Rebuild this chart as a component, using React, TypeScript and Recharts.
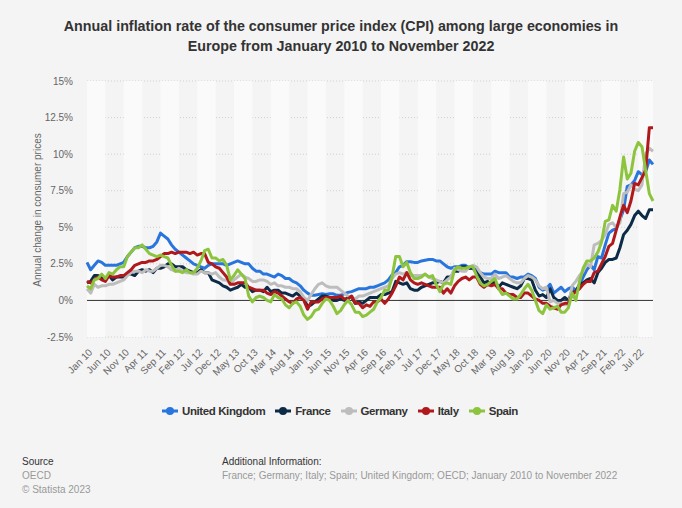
import {
  CartesianGrid,
  Line,
  LineChart,
  ReferenceArea,
  ReferenceLine,
  XAxis,
  YAxis
} from "recharts";

// x tick labels, one every 5 months starting Jan 2010
const TICK_LABELS = [
  "Jan 10", "Jun 10", "Nov 10", "Apr 11", "Sep 11", "Feb 12", "Jul 12", "Dec 12",
  "May 13", "Oct 13", "Mar 14", "Aug 14", "Jan 15", "Jun 15", "Nov 15", "Apr 16",
  "Sep 16", "Feb 17", "Jul 17", "Dec 17", "May 18", "Oct 18", "Mar 19", "Aug 19",
  "Jan 20", "Jun 20", "Nov 20", "Apr 21", "Sep 21", "Feb 22", "Jul 22"
];

const Y_TICKS = [-2.5, 0, 2.5, 5, 7.5, 10, 12.5, 15];

// monthly values, Jan 2010 .. Nov 2022 (one row per year)
const UK = [
  2.6, 2.1, 2.4, 2.7, 2.6, 2.4, 2.4, 2.4, 2.4, 2.5, 2.6, 3.0,
  3.3, 3.6, 3.7, 3.7, 3.6, 3.6, 3.7, 4.0, 4.6, 4.4, 4.2, 3.8,
  3.5, 3.3, 3.1, 2.9, 2.7, 2.5, 2.4, 2.3, 2.2, 2.4, 2.5, 2.5,
  2.5, 2.5, 2.4, 2.5, 2.6, 2.7, 2.6, 2.5, 2.5, 2.2, 2.0, 2.0,
  1.8, 1.8, 1.7, 1.6, 1.8, 1.7, 1.5, 1.5, 1.3, 1.2, 1.0, 0.7,
  0.5, 0.35, 0.35, 0.4, 0.45, 0.4, 0.45, 0.45, 0.35, 0.35, 0.45, 0.55,
  0.6, 0.7, 0.8, 0.8, 0.8, 0.9, 0.9, 1.0, 1.1, 1.2, 1.4, 1.75,
  1.9, 2.3, 2.4, 2.65, 2.65, 2.6, 2.6, 2.7, 2.75, 2.8, 2.8, 2.7,
  2.7, 2.5, 2.3, 2.2, 2.3, 2.3, 2.4, 2.4, 2.2, 2.2, 2.1, 1.9,
  1.8, 1.8, 1.8, 2.0, 1.9, 1.9, 1.9, 1.6, 1.6, 1.5, 1.6, 1.6,
  1.8, 1.7, 1.5, 0.9, 0.7, 0.8, 1.1, 0.5, 0.7, 0.9, 0.6, 0.8,
  0.9, 0.7, 1.0, 1.6, 2.1, 2.4, 2.1, 3.0, 2.9, 3.8, 4.6, 4.8,
  4.9, 5.5, 6.2, 7.8, 7.9, 8.2, 8.8, 8.6, 8.8, 9.6, 9.3
];

const FRANCE = [
  1.2, 1.3, 1.7, 1.7, 1.6, 1.5, 1.7, 1.4, 1.6, 1.6, 1.6, 1.8,
  1.8, 1.7, 2.0, 2.1, 2.0, 2.1, 1.9, 2.2, 2.2, 2.3, 2.5, 2.5,
  2.3, 2.3, 2.3, 2.1, 2.0, 1.9, 1.9, 2.1, 1.9, 1.9, 1.4, 1.3,
  1.2, 1.0, 0.9, 0.7, 0.8, 0.9, 1.1, 0.9, 0.9, 0.6, 0.7, 0.7,
  0.6, 0.9, 0.6, 0.7, 0.7, 0.5, 0.5, 0.4, 0.3, 0.5, 0.3, 0.1,
  -0.4, -0.3, -0.1, 0.1, 0.3, 0.3, 0.2, 0.0, 0.0, 0.1, 0.0, 0.2,
  0.2, -0.2, -0.1, -0.2, 0.0, 0.2, 0.2, 0.2, 0.4, 0.4, 0.5, 0.6,
  1.3, 1.2, 1.1, 1.2, 0.8, 0.7, 0.7, 0.9, 1.0, 1.1, 1.2, 1.2,
  1.3, 1.2, 1.6, 1.6, 2.0, 2.0, 2.3, 2.3, 2.2, 2.2, 1.9, 1.6,
  1.2, 1.3, 1.1, 1.3, 0.9, 1.2, 1.1, 1.0, 0.9, 0.8, 1.0, 1.5,
  1.5, 1.4, 0.7, 0.3, 0.4, 0.2, 0.8, 0.2, 0.0, 0.0, 0.2, 0.0,
  0.6, 0.6, 1.1, 1.2, 1.4, 1.5, 1.2, 1.9, 2.2, 2.6, 2.8, 2.8,
  2.9, 3.6, 4.5, 4.8, 5.2, 5.8, 6.1, 5.8, 5.6, 6.2, 6.2
];

const GERMANY = [
  0.8, 0.5, 1.1, 0.9, 1.0, 1.0, 1.1, 1.1, 1.2, 1.3, 1.4, 1.7,
  1.9, 2.0, 2.0, 1.9, 2.1, 2.0, 2.0, 2.2, 2.4, 2.4, 2.3, 2.1,
  2.0, 2.2, 2.0, 1.9, 1.9, 1.8, 1.8, 2.0, 1.9, 1.9, 1.8, 1.9,
  1.6, 1.4, 1.4, 1.1, 1.4, 1.6, 1.8, 1.6, 1.5, 1.3, 1.3, 1.4,
  1.4, 1.3, 1.1, 1.2, 1.0, 1.0, 0.9, 0.9, 0.8, 0.8, 0.6, 0.2,
  0.0, 0.4, 0.8, 1.1, 1.2, 1.0, 0.9, 0.9, 0.9, 0.7, 0.5, 0.3,
  0.2, 0.1, 0.3, 0.3, 0.4, 0.5, 0.6, 0.7, 0.8, 0.9, 1.0, 1.5,
  1.8, 1.9, 1.8, 1.9, 1.7, 1.7, 1.7, 1.7, 1.8, 1.6, 1.5, 1.4,
  1.3, 1.2, 1.4, 1.6, 2.2, 2.1, 2.0, 2.0, 2.3, 2.4, 2.3, 1.9,
  1.6, 1.5, 1.5, 1.8, 1.5, 1.6, 1.7, 1.5, 1.3, 1.2, 1.2, 1.5,
  1.7, 1.6, 1.4, 1.0, 0.8, 0.9, -0.1, 0.0, -0.2, -0.2, -0.3, -0.3,
  1.0, 1.3, 1.7, 2.0, 2.5, 2.3, 3.8, 3.9, 4.1, 4.5, 5.2, 5.3,
  5.0, 5.3, 7.3, 7.4, 7.9, 7.6, 7.5, 7.9, 10.0, 10.4, 10.2
];

const ITALY = [
  1.3, 1.2, 1.4, 1.6, 1.4, 1.3, 1.7, 1.6, 1.6, 1.7, 1.7, 1.9,
  2.1, 2.4, 2.5, 2.6, 2.6, 2.7, 2.7, 2.8, 3.0, 3.2, 3.2, 3.3,
  3.2, 3.3, 3.3, 3.3, 3.2, 3.3, 3.1, 3.2, 3.2, 2.6, 2.5, 2.3,
  2.2, 1.9, 1.6, 1.1, 1.1, 1.2, 1.2, 1.2, 0.9, 0.8, 0.7, 0.7,
  0.7, 0.5, 0.4, 0.6, 0.5, 0.3, 0.1, -0.1, -0.2, 0.1, 0.2, 0.0,
  -0.6, -0.1, -0.1, -0.1, 0.1, 0.2, 0.2, 0.2, 0.2, 0.3, 0.1, 0.1,
  0.3, -0.2, -0.2, -0.5, -0.3, -0.4, -0.1, -0.1, 0.1, -0.2, 0.1, 0.5,
  1.0, 1.6, 1.4, 1.9, 1.4, 1.2, 1.1, 1.2, 1.1, 1.0, 0.9, 0.9,
  0.9, 0.5, 0.8, 0.5, 1.0, 1.3, 1.5, 1.6, 1.4, 1.6, 1.6, 1.1,
  0.9, 1.1, 1.0, 1.1, 0.8, 0.8, 0.5, 0.4, 0.4, 0.2, 0.2, 0.5,
  0.5, 0.3, 0.1, 0.0, -0.2, -0.2, -0.4, -0.5, -0.6, -0.3, -0.2, -0.2,
  0.4, 0.6, 0.8, 1.1, 1.3, 1.3, 1.9, 2.0, 2.5, 3.0, 3.7, 3.9,
  4.8, 5.7, 6.5, 6.0, 6.8, 8.0, 7.9, 8.4, 8.9, 11.8, 11.8
];

const SPAIN = [
  1.0, 0.8, 1.4, 1.5, 1.8, 1.5, 1.9, 1.8, 2.1, 2.3, 2.3, 3.0,
  3.3, 3.6, 3.6, 3.8, 3.5, 3.2, 3.1, 3.0, 3.1, 3.0, 2.9, 2.4,
  2.0, 2.0, 1.9, 2.1, 1.9, 1.9, 2.2, 2.7, 3.4, 3.5, 2.9, 2.9,
  2.7, 2.8, 2.4, 1.4, 1.7, 2.1, 1.8, 1.5, 0.3, -0.1, 0.2, 0.3,
  0.2, 0.0, -0.1, 0.4, 0.2, 0.1, -0.3, -0.5, -0.2, -0.1, -0.4, -1.0,
  -1.3, -1.1, -0.7, -0.6, -0.2, 0.1, 0.0, -0.4, -0.9, -0.7, -0.3, 0.0,
  -0.3, -0.8, -0.8, -1.1, -1.0, -0.8, -0.6, -0.1, 0.2, 0.7, 0.7, 1.6,
  3.0, 3.0, 2.3, 2.6, 1.9, 1.5, 1.5, 1.6, 1.8, 1.6, 1.7, 1.1,
  0.6, 1.1, 1.2, 1.1, 2.1, 2.3, 2.2, 2.2, 2.3, 2.3, 1.7, 1.2,
  1.0, 1.1, 1.3, 1.5, 0.8, 0.4, 0.5, 0.3, 0.1, 0.1, 0.4, 0.8,
  1.1, 0.7, 0.0, -0.7, -0.9, -0.3, -0.6, -0.5, -0.4, -0.8, -0.8, -0.5,
  0.5, 0.0, 1.3, 2.2, 2.7, 2.7, 2.9, 3.3, 4.0, 5.4, 5.5, 6.5,
  6.1, 7.6, 9.8, 8.3, 8.7, 10.2, 10.8, 10.5, 8.9, 7.3, 6.8
];

const SERIES = [
  { key: "uk", name: "United Kingdom", color: "#2876dd" },
  { key: "fr", name: "France", color: "#0d2a47" },
  { key: "de", name: "Germany", color: "#bdbdbd" },
  { key: "it", name: "Italy", color: "#b0181c" },
  { key: "es", name: "Spain", color: "#8cc43d" }
];

const data = UK.map((v, i) => ({
  i,
  uk: v,
  fr: FRANCE[i],
  de: GERMANY[i],
  it: ITALY[i],
  es: SPAIN[i]
}));

const LAST = UK.length - 1;
const FONT = "'Liberation Sans', Arial, sans-serif";

function MonthTick({ x, y, payload }: any) {
  const tx = x + 6;
  const ty = y + 8;
  return (
    <text
      x={tx}
      y={ty}
      transform={`rotate(-45, ${tx}, ${ty})`}
      textAnchor="end"
      fill="#666"
      fontSize={10}
      fontFamily={FONT}
    >
      {TICK_LABELS[payload.value / 5]}
    </text>
  );
}

function LegendItem({ name, color }: { name: string; color: string }) {
  return (
    <div style={{ display: "flex", alignItems: "center", marginRight: 10 }}>
      <svg width={16} height={10} style={{ marginRight: 4 }}>
        <line x1={0} y1={5} x2={16} y2={5} stroke={color} strokeWidth={3} />
        <circle cx={8} cy={5} r={4} fill={color} />
      </svg>
      <span style={{ fontWeight: 700, fontSize: 11.5, color: "#333", letterSpacing: -0.4 }}>{name}</span>
    </div>
  );
}

export default function App() {
  return (
    <div
      style={{
        position: "absolute",
        left: 0,
        top: 0,
        width: 682,
        height: 508,
        background: "#f4f4f4",
        fontFamily: FONT,
        overflow: "hidden"
      }}
    >
      <div
        style={{
          position: "absolute",
          top: 16,
          left: 0,
          width: 682,
          textAlign: "center",
          fontWeight: 700,
          fontSize: 14.3,
          lineHeight: "20px",
          color: "#333"
        }}
      >
        Annual inflation rate of the consumer price index (CPI) among large economies in
        <br />
        Europe from January 2010 to November 2022
      </div>

      <div style={{ position: "absolute", left: 0, top: 0 }}>
        <LineChart
          width={682}
          height={400}
          data={data}
          margin={{ top: 81, right: 29, bottom: 13, left: 27 }}
        >
          {TICK_LABELS.map((_, k) =>
            k % 2 === 0 ? (
              <ReferenceArea
                key={k}
                x1={k * 5}
                x2={Math.min(k * 5 + 5, LAST)}
                fill="#fafafa"
                fillOpacity={1}
                stroke="none"
              />
            ) : null
          )}
          <CartesianGrid vertical={false} stroke="#cfcfcf" strokeDasharray="1 2" />
          <XAxis
            dataKey="i"
            type="number"
            domain={[0, LAST]}
            ticks={TICK_LABELS.map((_, k) => k * 5)}
            interval={0}
            height={50}
            tickLine={false}
            axisLine={false}
            tick={<MonthTick />}
          />
          <YAxis
            type="number"
            domain={[-2.5, 15]}
            ticks={Y_TICKS}
            tickFormatter={(v: number) => `${v}%`}
            width={60}
            tickLine={false}
            axisLine={false}
            tickMargin={8}
            tick={{ fill: "#666", fontSize: 10, fontFamily: FONT }}
          />
          <ReferenceLine y={0} stroke="#333" strokeWidth={1} />
          {SERIES.map((s) => (
            <Line
              key={s.key}
              type="linear"
              dataKey={s.key}
              name={s.name}
              stroke={s.color}
              strokeWidth={3}
              dot={false}
              isAnimationActive={false}
              strokeLinejoin="round"
            />
          ))}
        </LineChart>
      </div>

      <div
        style={{
          position: "absolute",
          left: 37,
          top: 210,
          transform: "translate(-50%, -50%) rotate(-90deg)",
          whiteSpace: "nowrap",
          fontSize: 10,
          color: "#666"
        }}
      >
        Annual change in consumer prices
      </div>

      <div
        style={{
          position: "absolute",
          top: 405,
          left: 4,
          width: 682,
          display: "flex",
          justifyContent: "center"
        }}
      >
        {SERIES.map((s) => (
          <LegendItem key={s.key} name={s.name} color={s.color} />
        ))}
      </div>

      <div style={{ position: "absolute", left: 22, top: 455, fontSize: 10, lineHeight: "14px" }}>
        <div style={{ color: "#333" }}>Source</div>
        <div style={{ color: "#999" }}>OECD</div>
        <div style={{ color: "#999" }}>© Statista 2023</div>
      </div>
      <div style={{ position: "absolute", left: 222, top: 455, fontSize: 10, lineHeight: "14px" }}>
        <div style={{ color: "#333" }}>Additional Information:</div>
        <div style={{ color: "#999" }}>
          France; Germany; Italy; Spain; United Kingdom; OECD; January 2010 to November 2022
        </div>
      </div>
    </div>
  );
}
